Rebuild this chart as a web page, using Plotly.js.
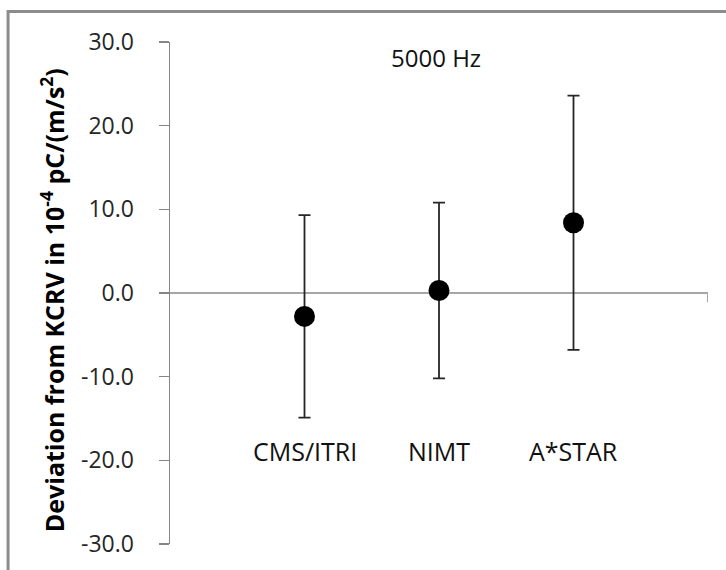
<!DOCTYPE html>
<html>
<head>
<meta charset="utf-8">
<script src="https://cdn.plot.ly/plotly-3.0.1.min.js"></script>
<style>html,body{margin:0;padding:0;background:#fff;}#chart{width:726px;height:570px;}</style>
</head>
<body>
<div id="chart"></div>
<script>
const labs = ["CMS/ITRI", "NIMT", "A*STAR"];
const xPos = [1, 2, 3];
const deviation = [-2.8, 0.3, 8.4];
const uncertainty = [12.1, 10.5, 15.2];
const yTickVals = [-30, -20, -10, 0, 10, 20, 30];
const yTickText = ["-30.0", "-20.0", "-10.0", "0.0", "10.0", "20.0", "30.0"];
const labelY = -18.9;
const freqLabel = "5000 Hz";

const FONT = "Open Sans, Noto Sans, sans-serif";

const trace = {
  type: "scatter",
  mode: "markers",
  x: xPos,
  y: deviation,
  marker: {color: "#000000", size: 21},
  error_y: {type: "data", array: uncertainty, visible: true, color: "#262626", thickness: 1.8, width: 6},
  hoverinfo: "skip",
  showlegend: false
};

const annotations = labs.map((t, i) => ({
  x: xPos[i], y: labelY, xref: "x", yref: "y", text: t, showarrow: false,
  font: {family: FONT, size: 25, color: "#111111"}, xanchor: "center", yanchor: "middle"
}));
annotations.push({
  x: 1.98, y: 28.2, xref: "x", yref: "y", text: freqLabel, showarrow: false,
  font: {family: FONT, size: 24, color: "#111111"}, xanchor: "center", yanchor: "middle"
});
annotations.push({
  x: -0.218, y: 0.485, xref: "paper", yref: "paper", textangle: -90,
  text: "<b>Deviation from KCRV in 10<sup>-4</sup> pC/(m/s<sup>2</sup>)</b>",
  showarrow: false, font: {family: FONT, size: 25, color: "#000000"},
  xanchor: "center", yanchor: "middle"
});

const layout = {
  width: 726, height: 570,
  margin: {l: 170, r: 18, t: 42, b: 26},
  paper_bgcolor: "#ffffff", plot_bgcolor: "#ffffff",
  xaxis: {range: [0, 4], showgrid: false, zeroline: false, showline: false, showticklabels: false, ticks: "", fixedrange: true},
  yaxis: {
    range: [-30, 30], tickvals: yTickVals, ticktext: yTickText,
    showgrid: false, zeroline: true, zerolinecolor: "#a6a6a6", zerolinewidth: 2,
    showline: true, linecolor: "#868686", linewidth: 1.5,
    ticks: "outside", ticklen: 10, tickcolor: "#868686", tickwidth: 1.5,
    ticklabelstandoff: 20,
    tickfont: {family: FONT, size: 23, color: "#262626"}
  },
  annotations: annotations,
  shapes: [
    {type: "line", xref: "x", yref: "y", x0: 4, x1: 4, y0: 0, y1: -1.1, line: {color: "#a6a6a6", width: 2}},
    {type: "rect", xref: "paper", yref: "paper", x0: -0.301, x1: 1.05, y0: -0.08, y1: 1.061, line: {color: "#8c8c8c", width: 3}, fillcolor: "rgba(0,0,0,0)", layer: "below"}
  ]
};

Plotly.newPlot("chart", [trace], layout, {displayModeBar: false, staticPlot: true});
</script>
</body>
</html>
